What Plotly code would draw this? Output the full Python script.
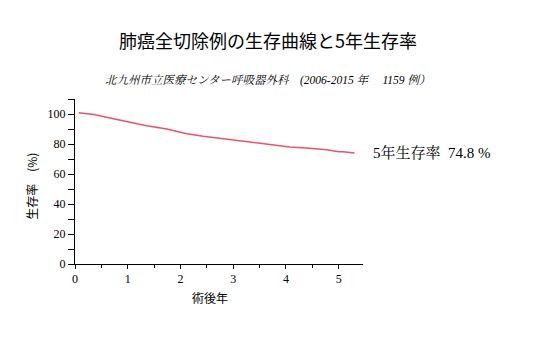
import plotly.graph_objects as go

years = [0.07, 0.36, 0.73, 1.05, 1.36, 1.74, 2.12, 2.43, 2.81, 3.13, 3.51, 3.82, 4.07, 4.45, 4.77, 5.0, 5.08, 5.30]
survival = [100.8, 99.7, 96.9, 94.4, 92.2, 90.0, 86.9, 85.1, 83.5, 82.2, 80.4, 79.5, 78.0, 77.1, 76.2, 74.8, 74.9, 74.0]

title_text = "肺癌全切除例の生存曲線と5年生存率"
subtitle_text = "北九州市立医療センター呼吸器外科　(2006-2015 年　 1159 例）"
five_year_label = "5年生存率  74.8 %"
x_title = "術後年"
y_title = "生存率　(%)"

CJK = "Noto Sans CJK JP"
SERIF = "Liberation Serif, Noto Serif CJK JP, Noto Sans CJK JP"

# page body offset (browser default margin)
OFF = 8
L, R, T, B = 74.5, 363.0, 99.0, 264.5  # target plot area in screenshot pixels
W, H = R - L, B - T


def px(x):
    return (x - L) / W


def py(y):
    return (B - y) / H


fig = go.Figure()
fig.add_trace(go.Scatter(x=years, y=survival, mode="lines",
                         line=dict(color="#f0506a", width=1.5), hoverinfo="skip"))

fig.update_layout(
    width=540, height=360,
    margin=dict(l=L - OFF, r=540 - R + OFF, t=T - OFF, b=360 - B + OFF),
    paper_bgcolor="white", plot_bgcolor="white",
    showlegend=False,
    xaxis=dict(range=[0, 5.46], showgrid=False, zeroline=False,
               showline=True, linecolor="black", linewidth=1,
               ticks="outside", ticklen=4, tickcolor="black", dtick=1, tick0=0,
               minor=dict(dtick=0.5, ticks="outside", ticklen=3, tickcolor="black"),
               tickfont=dict(family=SERIF, size=12, color="black")),
    yaxis=dict(range=[0, 110], showgrid=False, zeroline=False,
               showline=True, linecolor="black", linewidth=1,
               ticks="outside", ticklen=6, tickcolor="black", dtick=20, tick0=0,
               minor=dict(dtick=10, ticks="outside", ticklen=6, tickcolor="black"),
               tickfont=dict(family=SERIF, size=12, color="black")),
)

fig.add_annotation(text=title_text, xref="paper", yref="paper",
                   x=px(267.5), y=py(40),
                   showarrow=False, xanchor="center", yanchor="middle",
                   font=dict(family=CJK, size=18, color="black"))
fig.add_annotation(text="<i>" + subtitle_text + "</i>", xref="paper", yref="paper",
                   x=px(267), y=py(80),
                   showarrow=False, xanchor="center", yanchor="middle",
                   font=dict(family=SERIF, size=11.5, color="black"))
fig.add_annotation(text=five_year_label, xref="paper", yref="paper",
                   x=px(371), y=py(153),
                   showarrow=False, xanchor="left", yanchor="middle",
                   font=dict(family=SERIF, size=15, color="black"))
fig.add_annotation(text=x_title, xref="paper", yref="paper",
                   x=px(210), y=py(298),
                   showarrow=False, xanchor="center", yanchor="middle",
                   font=dict(family=CJK, size=12, color="black"))
fig.add_annotation(text=y_title, xref="paper", yref="paper",
                   x=px(31.5), y=py(187),
                   showarrow=False, xanchor="center", yanchor="middle", textangle=-90,
                   font=dict(family=CJK, size=12, color="black"))

fig.write_html("out.html")
